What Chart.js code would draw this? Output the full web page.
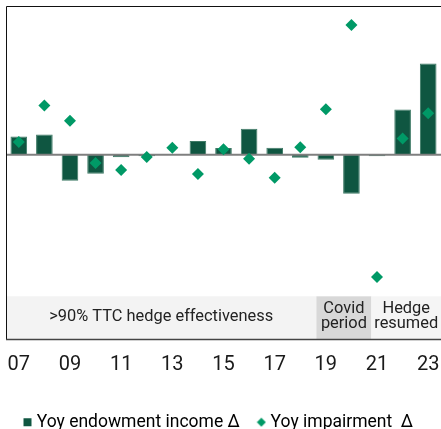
<!DOCTYPE html>
<html>
<head>
<meta charset="utf-8">
<script src="https://cdn.jsdelivr.net/npm/chart.js@4/dist/chart.umd.min.js"></script>
<style>
  html, body { margin: 0; padding: 0; background: #fff; }
  #wrap { width: 441px; height: 429px; position: relative; }
</style>
</head>
<body>
<div id="wrap"><canvas id="c" width="441" height="429"></canvas></div>
<script>
// Years 2007–2023, shown as two-digit labels
const years = ['07','08','09','10','11','12','13','14','15','16','17','18','19','20','21','22','23'];
// Year-on-year change in endowment income
const endowmentDelta = [18, 20, -26, -19, -2.5, -1.5, 0.5, 13.7, 6.7, 25.7, 7, -3, -5, -39, -1.5, 45, 90.7];
// Year-on-year change in impairment
const impairmentDelta = [12.7, 49, 33.7, -8.3, -15.3, -2.3, 7, -19.3, 5.3, -4, -23, 7.3, 45.3, 129, -121.7, 16, 41.3];
// Period bands along the foot of the plot: [start index, end index, fill, text lines]
const periods = [
  { from: -0.5,  to: 11.63, fill: '#f3f3f3', lines: ['>90% TTC hedge effectiveness'] },
  { from: 11.63, to: 13.78, fill: '#d8d8d8', lines: ['Covid', 'period'] },
  { from: 13.78, to: 16.5,  fill: '#f5f5f5', lines: ['Hedge', 'resumed'] }
];
const seriesNames = ['Yoy endowment income \u0394', 'Yoy impairment  \u0394'];

const BAR = '#0f5641';
const DOT = '#009966';
const FONT = 'Roboto, "Open Sans", sans-serif';

function markerCanvas(kind, color) {
  const c = document.createElement('canvas');
  c.width = 10; c.height = 10;
  const g = c.getContext('2d');
  g.fillStyle = color;
  if (kind === 'square') {
    g.fillRect(1, 1, 8, 8);
  } else {
    g.beginPath();
    g.moveTo(5, 0.5); g.lineTo(9.5, 5); g.lineTo(5, 9.5); g.lineTo(0.5, 5);
    g.closePath(); g.fill();
  }
  return c;
}
const legendMarks = [markerCanvas('square', BAR), markerCanvas('diamond', DOT)];

const BAND_TOP = -141;

const framePlugin = {
  id: 'frame',
  beforeDatasetsDraw(chart) {
    const { ctx, chartArea: a, scales: { x, y } } = chart;
    const step = x.getPixelForValue(1) - x.getPixelForValue(0);
    const x0 = x.getPixelForValue(0);
    const top = y.getPixelForValue(BAND_TOP);
    ctx.save();
    periods.forEach(p => {
      const l = Math.max(a.left, x0 + p.from * step);
      const r = Math.min(a.right, x0 + p.to * step);
      ctx.fillStyle = p.fill;
      ctx.fillRect(l, top, r - l, a.bottom - top);
      ctx.fillStyle = '#222';
      ctx.font = '16.4px ' + FONT;
      ctx.textAlign = 'center';
      ctx.textBaseline = 'middle';
      const cx = (l + r) / 2;
      const cy = (top + a.bottom) / 2 - 1;
      const lh = 15;
      p.lines.forEach((t, i) => {
        ctx.fillText(t, cx, cy + (i - (p.lines.length - 1) / 2) * lh);
      });
    });
    ctx.restore();
  },
  afterDatasetDraw(chart, args) {
    if (args.index !== 0) return;
    const { ctx, chartArea: a, scales: { y } } = chart;
    const zy = y.getPixelForValue(0);
    ctx.save();
    ctx.strokeStyle = '#7f7f7f';
    ctx.lineWidth = 2;
    ctx.beginPath(); ctx.moveTo(a.left, zy); ctx.lineTo(a.right, zy); ctx.stroke();
    ctx.strokeStyle = '#111';
    ctx.lineWidth = 1;
    ctx.beginPath();
    ctx.moveTo(a.right, a.top + 0.5); ctx.lineTo(a.left + 0.5, a.top + 0.5);
    ctx.lineTo(a.left + 0.5, a.bottom);
    ctx.stroke();
    ctx.strokeStyle = '#444';
    ctx.lineWidth = 1.5;
    ctx.beginPath(); ctx.moveTo(a.left, a.bottom); ctx.lineTo(a.right, a.bottom); ctx.stroke();
    ctx.restore();
  }
};

new Chart(document.getElementById('c'), {
  type: 'bar',
  data: {
    labels: years,
    datasets: [
      {
        type: 'bar',
        label: seriesNames[0],
        data: endowmentDelta,
        backgroundColor: BAR,
        borderColor: '#3f7a66',
        borderWidth: 1,
        categoryPercentage: 1,
        barPercentage: 0.65,
        order: 1
      },
      {
        type: 'line',
        label: seriesNames[1],
        data: impairmentDelta,
        showLine: false,
        pointStyle: 'rectRot',
        pointRadius: 6,
        pointHoverRadius: 6,
        pointBackgroundColor: DOT,
        pointBorderColor: DOT,
        pointBorderWidth: 0,
        order: 0
      }
    ]
  },
  options: {
    responsive: false,
    animation: false,
    events: [],
    layout: { autoPadding: false, padding: { left: 6, top: 6, right: 0, bottom: -12 } },
    scales: {
      x: {
        offset: true,
        grid: { display: false, drawTicks: false },
        border: { display: false },
        ticks: {
          autoSkip: false,
          maxRotation: 0,
          padding: 13,
          color: '#1a1a1a',
          font: { family: FONT, size: 20 },
          callback: (v, i) => (i % 2 === 0 ? years[i] : '')
        },
        afterFit: (s) => {
          s.paddingLeft = 0;
          s.paddingRight = 0;
          s.height += 3;
        }
      },
      y: {
        display: false,
        min: -184,
        max: 148
      }
    },
    plugins: {
      tooltip: { enabled: false },
      legend: {
        position: 'bottom',
        align: 'start',
        labels: {
          usePointStyle: true,
          boxHeight: 10,
          boxWidth: 1,
          padding: 21,
          color: '#1a1a1a',
          font: { family: FONT, size: 17.5 },
          generateLabels: () => seriesNames.map((t, i) => ({
            text: t,
            pointStyle: legendMarks[i],
            fillStyle: i ? DOT : BAR,
            strokeStyle: 'transparent',
            lineWidth: 0,
            hidden: false,
            datasetIndex: i
          }))
        }
      }
    }
  },
  plugins: [framePlugin]
});
</script>
</body>
</html>
